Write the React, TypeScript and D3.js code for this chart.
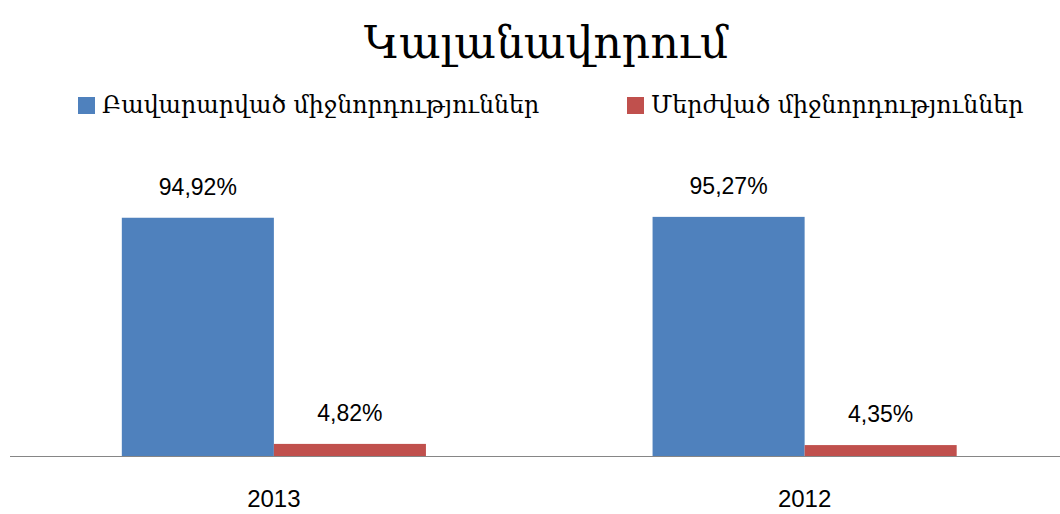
import React from 'react'
import * as d3 from 'd3'

const title = "Կալանավորում"
const years = ["2013", "2012"]
const seriesNames = ["Բավարարված միջնորդություններ", "Մերժված միջնորդություններ"]
const satisfied = [94.92, 95.27]
const rejected = [4.82, 4.35]
const valueLabels = [["94,92%", "95,27%"], ["4,82%", "4,35%"]]
const colors = ["#4F81BD", "#C0504D"]

const width = 1060
const height = 514

const App = () => {
    const series = [satisfied, rejected]

    // plot area runs a little past the right edge, like the original crop
    const xScale = d3.scaleBand()
        .domain(years)
        .range([8.5, 1070])
        .padding(0)

    const groupWidth = xScale.bandwidth() * 0.573
    const xInner = d3.scaleBand()
        .domain(seriesNames)
        .range([0, groupWidth])

    const yScale = d3.scaleLinear()
        .domain([0, 100])
        .range([456, 205])

    const numFont = "'Liberation Sans', Arial, sans-serif"
    const armFont = "'DejaVu Serif', serif"

    return (
        <svg width={width} height={height}
             style={{ position: 'absolute', left: 0, top: 0, background: '#fff' }}>
            <text x={546} y={58} textAnchor="middle" fontFamily={armFont}
                  fontSize={44} fill="#000">{title}</text>

            {seriesNames.map((name, i) => {
                const lx = [78, 627][i]
                return (
                    <g key={name}>
                        <rect x={lx} y={97} width={17} height={17} fill={colors[i]} />
                        <text x={lx + 24} y={113} fontFamily={armFont} fontSize={23.7}
                              fill="#000">{name}</text>
                    </g>
                )
            })}

            {years.map((yr, j) => {
                const gx = xScale(yr)! + (xScale.bandwidth() - groupWidth) / 2
                return (
                    <g key={yr}>
                        {series.map((vals, i) => {
                            const bx = gx + xInner(seriesNames[i])!
                            const by = yScale(vals[j])
                            return (
                                <g key={i}>
                                    <rect x={bx} y={by} width={xInner.bandwidth()}
                                          height={yScale(0) - by} fill={colors[i]} />
                                    <text x={bx + xInner.bandwidth() / 2} y={by - 23}
                                          textAnchor="middle" fontFamily={numFont}
                                          fontSize={23} fill="#000">{valueLabels[i][j]}</text>
                                </g>
                            )
                        })}
                        <text x={xScale(yr)! + xScale.bandwidth() / 2} y={507}
                              textAnchor="middle" fontFamily={numFont} fontSize={24}
                              fill="#000">{yr}</text>
                    </g>
                )
            })}

            <line x1={10} x2={1060} y1={yScale(0) + 0.5} y2={yScale(0) + 0.5}
                  stroke="#868686" strokeWidth={1} />
        </svg>
    )
}

export default App
